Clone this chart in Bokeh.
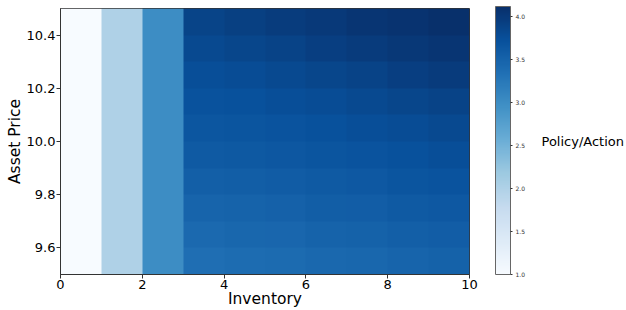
import numpy as np
from bokeh.plotting import figure
from bokeh.models import (LinearColorMapper, ColorBar, FixedTicker, PrintfTickFormatter,
                          Range1d, LinearAxis)
from bokeh.palettes import Blues256
from bokeh.embed import file_html
from bokeh.resources import INLINE

# Inventory columns (left edges) and asset price row centres
inventory = [0, 1, 2, 3, 4, 5, 6, 7, 8, 9]
asset_price = [9.55, 9.65, 9.75, 9.85, 9.95, 10.05, 10.15, 10.25, 10.35, 10.45]

# Policy/action value per inventory column, listed bottom -> top along asset price
col_0 = [1.0] * 10
col_1 = [2.0] * 10
col_2 = [3.0] * 10
col_3 = [3.37, 3.43, 3.49, 3.55, 3.61, 3.66, 3.71, 3.76, 3.82, 3.88]
col_4 = [3.39, 3.45, 3.51, 3.57, 3.63, 3.68, 3.73, 3.79, 3.86, 3.93]
col_5 = [3.41, 3.47, 3.53, 3.59, 3.65, 3.70, 3.76, 3.82, 3.90, 3.97]
col_6 = [3.44, 3.50, 3.56, 3.62, 3.68, 3.73, 3.79, 3.86, 3.94, 4.01]
col_7 = [3.46, 3.52, 3.58, 3.64, 3.70, 3.76, 3.82, 3.90, 3.98, 4.05]
col_8 = [3.49, 3.55, 3.61, 3.67, 3.73, 3.79, 3.86, 3.94, 4.02, 4.08]
col_9 = [3.52, 3.58, 3.64, 3.70, 3.76, 3.82, 3.90, 3.98, 4.05, 4.11]

value_min = 1.0
value_max = 4.12
cbar_ticks = [1.0, 1.5, 2.0, 2.5, 3.0, 3.5, 4.0]
x_ticks = [0, 2, 4, 6, 8, 10]
y_ticks = [9.6, 9.8, 10.0, 10.2, 10.4]

columns = [col_0, col_1, col_2, col_3, col_4, col_5, col_6, col_7, col_8, col_9]
grid = np.array(columns).T  # rows = asset price (bottom first), cols = inventory

FONT = "DejaVu Sans"

p = figure(width=626, height=310, output_backend="svg", toolbar_location=None,
           x_range=Range1d(0, 10), y_range=Range1d(9.5, 10.5),
           min_border_left=60, min_border_right=156, min_border_top=8, min_border_bottom=30)

mapper = LinearColorMapper(palette=list(reversed(Blues256)), low=value_min, high=value_max)
p.image(image=[grid], x=inventory[0], y=asset_price[0] - 0.05,
        dw=len(inventory), dh=len(asset_price) * 0.1, color_mapper=mapper)

p.grid.visible = False
p.outline_line_color = "#333333"
p.outline_line_width = 1

for ax in (p.xaxis[0], p.yaxis[0]):
    ax.axis_line_color = "#333333"
    ax.major_tick_line_color = "#333333"
    ax.minor_tick_line_color = None
    ax.major_tick_out = 4
    ax.major_tick_in = 0
    ax.major_label_standoff = 1
    ax.major_label_text_font = FONT
    ax.major_label_text_font_size = "13px"
    ax.major_label_text_color = "#000000"
    ax.axis_label_text_font = FONT
    ax.axis_label_text_font_size = "15.5px"
    ax.axis_label_text_font_style = "normal"
    ax.axis_label_text_color = "#000000"

p.xaxis.ticker = FixedTicker(ticks=x_ticks)
p.yaxis.ticker = FixedTicker(ticks=y_ticks)
p.yaxis.formatter = PrintfTickFormatter(format="%.1f")
p.xaxis.axis_label = "Inventory"
p.yaxis.axis_label = "Asset Price"
p.xaxis.axis_label_standoff = -2
p.yaxis.axis_label_standoff = 0

cb = ColorBar(color_mapper=mapper, ticker=FixedTicker(ticks=cbar_ticks),
              formatter=PrintfTickFormatter(format="%.1f"),
              width=15, height=268, margin=0, padding=0,
              location=(26, 0),
              bar_line_color="#666666", bar_line_width=1,
              major_tick_line_color="#333333", major_tick_out=2, major_tick_in=0,
              minor_tick_line_color=None,
              major_label_text_font=FONT, major_label_text_font_size="6px",
              major_label_text_color="#333333", label_standoff=3,
              background_fill_color=None, border_line_color=None)
p.add_layout(cb, "right")

lab_axis = LinearAxis(ticker=FixedTicker(ticks=[]), axis_label="Policy/Action",
                      axis_line_color=None, major_tick_line_color=None,
                      minor_tick_line_color=None, major_label_text_font_size="0px",
                      axis_label_text_font=FONT, axis_label_text_font_size="13px",
                      axis_label_text_font_style="normal", axis_label_text_color="#000000",
                      axis_label_standoff=13)
if "axis_label_orientation" in lab_axis.properties():
    lab_axis.axis_label_orientation = "horizontal"
p.add_layout(lab_axis, "right")

open("out.html", "w").write(file_html(p, INLINE))
